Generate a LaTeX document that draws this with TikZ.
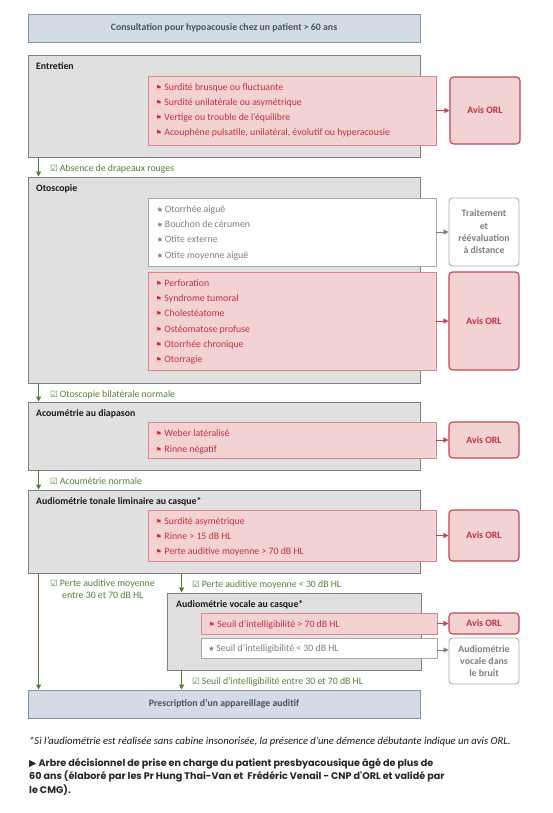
\documentclass[tikz,border=0pt]{standalone}
\usepackage{fontspec}
\setmainfont{Carlito}
\newfontfamily\symfont{DejaVu Sans}
\newfontfamily\capfont{Poppins}
\usetikzlibrary{arrows.meta}
\definecolor{bluefill}{HTML}{D3DBE4}
\definecolor{blueline}{HTML}{8493A5}
\definecolor{bluetext}{HTML}{44546A}
\definecolor{stagefill}{HTML}{E0E0E0}
\definecolor{stageline}{HTML}{808080}
\definecolor{pinkfill}{HTML}{F3D2D3}
\definecolor{pinkline}{HTML}{D8898F}
\definecolor{redtext}{HTML}{C2303D}
\definecolor{avisline}{HTML}{C24550}
\definecolor{greytext}{HTML}{7F7F7F}
\definecolor{greyline}{HTML}{A8A8A8}
\definecolor{greenc}{HTML}{548235}
\newcommand\flagsym{{\symfont\fontsize{7}{6}\selectfont ⚑}\hspace{2.5pt}}
\newcommand\starsym{{\symfont\fontsize{7.5}{6}\selectfont ★}\hspace{1.5pt}}
\newcommand\checksym{{\symfont\fontsize{8.5}{6}\selectfont ☑}\hspace{2pt}}
\newcommand\bx[7]{\node[#2, minimum width={(#5-#3)*1pt}, minimum height={(#6-#4)*1pt}] (#1) at ({(#3+#5)/2},{(#4+#6)/2}) {#7};}
\tikzset{
  bluebox/.style={draw=blueline, fill=bluefill, line width=0.9pt, inner sep=0pt,
    font=\fontsize{9.8}{10}\selectfont\bfseries, text=bluetext},
  stage/.style={draw=stageline, fill=stagefill, line width=0.9pt, inner sep=0pt},
  redlist/.style={draw=pinkline, fill=pinkfill, line width=0.8pt, inner sep=0pt},
  whitelist/.style={draw=greyline, fill=white, line width=0.8pt, inner sep=0pt},
  avis/.style={draw=avisline, fill=pinkfill, line width=1.1pt, rounded corners=3.5pt, inner sep=0pt,
    font=\fontsize{9.8}{10}\selectfont\bfseries, text=redtext},
  greybox/.style={draw=greyline, fill=white, line width=0.9pt, rounded corners=3.5pt, inner sep=0pt,
    align=center, font=\fontsize{9.8}{12.3}\selectfont\bfseries, text=greytext},
  title/.style={anchor=base west, inner sep=0pt, font=\fontsize{9.8}{10}\selectfont\bfseries, text=black!90},
  ritem/.style={anchor=base west, inner sep=0pt, font=\fontsize{9.8}{10}\selectfont, text=redtext},
  gitem/.style={anchor=base west, inner sep=0pt, font=\fontsize{9.8}{10}\selectfont, text=greytext},
  glabel/.style={anchor=base west, inner sep=0pt, font=\fontsize{9.8}{10}\selectfont, text=greenc},
  garrow/.style={draw=greenc, line width=0.8pt, -{Triangle[length=5pt,width=5pt]}},
  rarrow/.style={draw=avisline, line width=0.8pt, -{Triangle[length=5pt,width=5pt]}},
  karrow/.style={draw=greytext, line width=0.8pt, -{Triangle[length=5pt,width=5pt]}},
}
\begin{document}
\begin{tikzpicture}[x=1pt,y=-1pt]
\useasboundingbox (0,0) rectangle (552,813);
\fill[white] (0,0) rectangle (552,813);
% boxes
\bx{start}{bluebox}{28}{14}{420}{42}{Consultation pour hypoacousie chez un patient > 60 ans}
\bx{entretien}{stage}{28}{55}{420}{157}{}
\bx{red1}{redlist}{148}{76}{436}{145}{}
\bx{avis1}{avis}{450}{77}{520}{144}{Avis ORL}
\bx{otoscopie}{stage}{28}{177}{420}{383}{}
\bx{white1}{whitelist}{148}{198}{436}{266}{}
\bx{trait}{greybox}{449}{198}{519}{266}{Traitement\\et\\réévaluation\\à distance}
\bx{red2}{redlist}{148}{272}{436}{370}{}
\bx{avis2}{avis}{449}{272}{519}{370}{Avis ORL}
\bx{acou}{stage}{28}{402}{420}{470}{}
\bx{red3}{redlist}{148}{422}{436}{458}{}
\bx{avis3}{avis}{449}{422}{519}{458}{Avis ORL}
\bx{audio}{stage}{28}{490}{420}{573}{}
\bx{red4}{redlist}{148}{510}{436}{561}{}
\bx{avis4}{avis}{449}{510}{519}{561}{Avis ORL}
\bx{vocale}{stage}{167}{593}{421}{670}{}
\bx{red5}{redlist}{201}{613}{437}{634}{}
\bx{avis5}{avis}{449}{613}{519}{634}{Avis ORL}
\bx{white2}{whitelist}{201}{638}{437}{658}{}
\bx{bruit}{greybox}{449}{638}{519}{684}{Audiométrie\\vocale dans\\le bruit}
\bx{presc}{bluebox}{28}{690}{420}{718}{Prescription d’un appareillage auditif}
% titles
\node[title] (t1) at (36,69.5) {Entretien};
\node[title] (t2) at (36,191.5) {Otoscopie};
\node[title] (t3) at (36,416.5) {Acoumétrie au diapason};
\node[title] (t4) at (36,504.5) {Audiométrie tonale liminaire au casque*};
\node[title] (t5) at (176,607.5) {Audiométrie vocale au casque*};
% entretien items
\node[ritem] (e1) at (155.5,90.5) {\flagsym Surdité brusque ou fluctuante};
\node[ritem] (e2) at (155.5,105.5) {\flagsym Surdité unilatérale ou asymétrique};
\node[ritem] (e3) at (155.5,120.5) {\flagsym Vertige ou trouble de l’équilibre};
\node[ritem] (e4) at (155.5,135.5) {\flagsym Acouphène pulsatile, unilatéral, évolutif ou hyperacousie};
% otoscopie white items
\node[gitem] (o1) at (156.5,212.5) {\starsym Otorrhée aiguë};
\node[gitem] (o2) at (156.5,227.5) {\starsym Bouchon de cérumen};
\node[gitem] (o3) at (156.5,242.5) {\starsym Otite externe};
\node[gitem] (o4) at (156.5,258) {\starsym Otite moyenne aiguë};
% otoscopie red items
\node[ritem] (p1) at (155.5,286.5) {\flagsym Perforation};
\node[ritem] (p2) at (155.5,301.7) {\flagsym Syndrome tumoral};
\node[ritem] (p3) at (155.5,316.9) {\flagsym Cholestéatome};
\node[ritem] (p4) at (155.5,332.1) {\flagsym Ostéomatose profuse};
\node[ritem] (p5) at (155.5,347.3) {\flagsym Otorrhée chronique};
\node[ritem] (p6) at (155.5,362.5) {\flagsym Otorragie};
% acoumetrie items
\node[ritem] (a1) at (155.5,436.5) {\flagsym Weber latéralisé};
\node[ritem] (a2) at (155.5,452.5) {\flagsym Rinne négatif};
% audiometrie items
\node[ritem] (b1) at (155.5,524.5) {\flagsym Surdité asymétrique};
\node[ritem] (b2) at (155.5,539.5) {\flagsym Rinne > 15 dB HL};
\node[ritem] (b3) at (155.5,554.5) {\flagsym Perte auditive moyenne > 70 dB HL};
% vocale items
\node[ritem] (v1) at (208.5,627.5) {\flagsym Seuil d’intelligibilité > 70 dB HL};
\node[gitem] (v2) at (208,651.5) {\starsym Seuil d’intelligibilité < 30 dB HL};
% right arrows
\draw[rarrow] (red1.east) -- (avis1.west);
\draw[karrow] (white1.east) -- (trait.west);
\draw[rarrow] (red2.east) -- (avis2.west);
\draw[rarrow] (red3.east) -- (avis3.west);
\draw[rarrow] (red4.east) -- (avis4.west);
\draw[rarrow] (red5.east) -- (avis5.west);
\draw[karrow] ([yshift=-2pt]white2.east) -- ([yshift=-2pt]white2.east -| bruit.west);
% green flow
\draw[garrow] ([xshift=11pt]entretien.south west) -- ([xshift=11pt]otoscopie.north west);
\draw[garrow] ([xshift=11pt]otoscopie.south west) -- ([xshift=11pt]acou.north west);
\draw[garrow] ([xshift=11pt]acou.south west) -- ([xshift=11pt]audio.north west);
\draw[garrow] ([xshift=11pt]audio.south west) -- ([xshift=11pt]presc.north west);
\draw[garrow] ([xshift=15pt]vocale.north west |- audio.south) -- ([xshift=15pt]vocale.north west);
\draw[garrow] ([xshift=15pt]vocale.south west) -- ([xshift=15pt]vocale.south west |- presc.north);
% green labels
\node[glabel] (g1) at (50,171.5) {\checksym Absence de drapeaux rouges};
\node[glabel] (g2) at (50,397.5) {\checksym Otoscopie bilatérale normale};
\node[glabel] (g3) at (50,484.5) {\checksym Acoumétrie normale};
\node[glabel] (g4) at (50,586.5) {\checksym Perte auditive moyenne};
\node[glabel] (g4b) at (62,598.5) {entre 30 et 70 dB HL};
\node[glabel] (g5) at (192,587.5) {\checksym Perte auditive moyenne < 30 dB HL};
\node[glabel] (g6) at (192,684.5) {\checksym Seuil d’intelligibilité entre 30 et 70 dB HL};
% footnote and caption
\node[anchor=base west, inner sep=0pt, font=\fontsize{10.6}{10}\selectfont\itshape, text=black!90] (foot) at (29,744.5)
  {*Si l’audiométrie est réalisée sans cabine insonorisée, la présence d’une démence débutante indique un avis ORL.};
\node[anchor=north west, inner sep=0pt, align=left, font=\capfont\bfseries\fontsize{9.6}{13.5}\selectfont, text=black!85] (cap) at (29,758)
  {{\symfont ▶} Arbre décisionnel de prise en charge du patient presbyacousique âgé de plus de\\
   60 ans (élaboré par les Pr Hung Thai-Van et\ \ Frédéric Venail - CNP d'ORL et validé par\\
   le CMG).};
\end{tikzpicture}
\end{document}
